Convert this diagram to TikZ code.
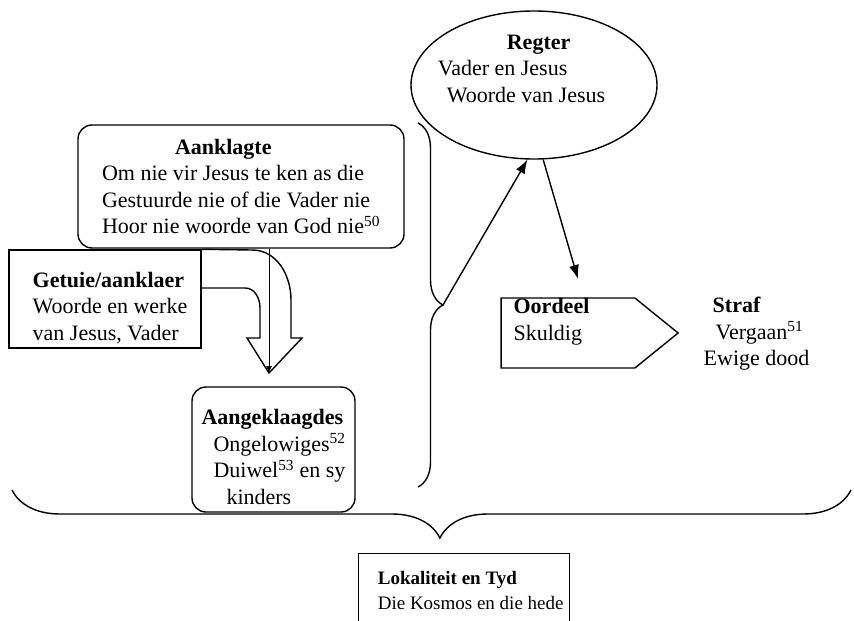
\documentclass[tikz,border=0pt]{standalone}
\usepackage{fontspec}
\setmainfont{Liberation Serif}
\usetikzlibrary{arrows.meta,calc,positioning,shapes.geometric,shapes.symbols,decorations.pathreplacing}
\tikzset{
  tekst/.style = {align=left, inner sep=0pt, text=black, font=\fontsize{22}{26.5}\selectfont},
  blok_s/.style = {tekst, draw, rectangle, line width=1.4pt},
  blok_r/.style = {blok_s, rounded corners=14pt},
  blok_e/.style = {tekst, draw, ellipse, line width=1.4pt},
  blok_p/.style = {tekst, draw, signal, signal to=east, signal pointer angle=78, line width=1.4pt},
  krul/.style = {decorate, decoration={brace, amplitude=#1}, line width=1.4pt}
}

\begin{document}
\begin{tikzpicture}[x=1pt, y=-1pt, >={Latex[length=14pt,width=10pt]}, line width=1.4pt]
    \useasboundingbox (0,0) rectangle (854,621);
    \clip (0,0) rectangle (854,621);

    % regter bo
    \node [blok_e, inner xsep=-15pt, minimum width=246, minimum height=148] (regter) at (534,85)
        {\hspace*{69pt}\textbf{Regter}\\Vader en Jesus\\\hspace*{9pt}Woorde van Jesus\rule{25pt}{0pt}\\[6pt]\mbox{}};

    % aanklag kant
    \node [blok_r, minimum width=326, minimum height=123] (aanklagte) at (241,186.5)
        {\hspace*{73pt}\textbf{Aanklagte}\\Om nie vir Jesus te ken as die\\Gestuurde nie of die Vader nie\\Hoor nie woorde van God nie\textsuperscript{50}};
    \node [blok_s, minimum width=192, minimum height=98] (getuie) at (105,299)
        {\hspace*{10pt}\rule{0pt}{33pt}\textbf{Getuie/aanklaer}\\\hspace*{10pt}Woorde en werke\\\hspace*{10pt}van Jesus, Vader};
    \node [blok_r, minimum width=163, minimum height=125] (beskuldig) at (273.5,449.5)
        {\rule{0pt}{30pt}\textbf{Aangeklaagdes}\\\hspace*{12pt}Ongelowiges\textsuperscript{52}\\\hspace*{12pt}Duiwel\textsuperscript{53} en sy\\\hspace*{25pt}kinders};

    % oordeel en straf
    \node [blok_p, minimum width=177, minimum height=70] (oordeel) at (568,333)
        {\textbf{Oordeel}\rule{33pt}{0pt}\\Skuldig\rule[-27pt]{0pt}{0pt}};
    \node [tekst, anchor=west] (straf) at (703,334)
        {\hspace*{9pt}\textbf{Straf}\\\hspace*{12pt}Vergaan\textsuperscript{51}\\Ewige dood};

    % plek en tyd
    \node [blok_s, minimum width=211, minimum height=90, anchor=north west,
           font=\fontsize{19}{24.5}\selectfont] (lokaliteit) at (358,553)
        {\hspace*{13pt}\textbf{Lokaliteit en Tyd}\\\hspace*{13pt}Die Kosmos en die hede\rule[-17pt]{0pt}{0pt}};

    \coordinate (punt) at (269,373);
    \coordinate (btip) at (443,305);
    \coordinate (oord_in) at (578,279);

    % hakies
    \draw [krul=25pt] (418,123) -- (418,487);
    \draw [krul=48pt, decoration={aspect=0.49}] (851,490) -- (12,490);

    % pyle
    \draw [->] (btip) -- (regter.265);
    \draw [->] (regter.277) -- (oord_in);
    \draw [-{Latex[length=7pt,width=6pt]}, line width=1pt] (aanklagte.south -| punt) -- (punt);
    \draw (getuie.north east) -- (252,250) to[out=0,in=90] (291,300) -- (291,338) -- (302,338)
        -- (punt) -- (247,338) -- (260,338) -- (260,308) to[out=90,in=0] (245,288) -- (201,288);
\end{tikzpicture}
\end{document}
